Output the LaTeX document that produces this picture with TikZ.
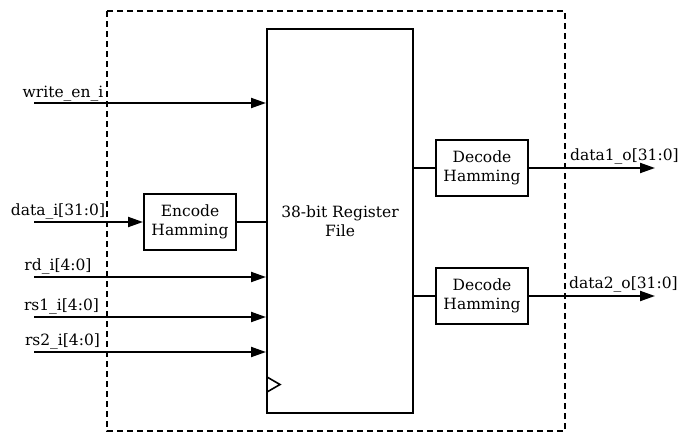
\documentclass[tikz,border=0pt]{standalone}
\usepackage{fontspec}
\setmainfont{DejaVu Serif}
\usetikzlibrary{arrows.meta,calc}
\begin{document}
\begin{tikzpicture}[x=1pt,y=-1pt,
  every node/.style={font=\fontsize{15.5}{19.5}\selectfont},
  blk/.style={draw,line width=2pt,rectangle,align=center,inner sep=0pt},
  arr/.style={line width=2pt,-{Triangle[length=15pt,width=10pt]}},
  wire/.style={line width=2pt},
  lbl/.style={anchor=base,inner sep=0pt}]
\useasboundingbox (0,0) rectangle (680,432);
% outer dashed boundary
\draw[line width=1.6pt,dash pattern=on 6pt off 4pt] (107,11) rectangle (565,431);
% blocks
\node[blk,minimum width=146pt,minimum height=384pt] (reg) at (340,221) {38-bit Register\\File};
\node[blk,minimum width=92pt,minimum height=56pt] (enc) at (190,222) {Encode\\Hamming};
\node[blk,minimum width=92pt,minimum height=56pt] (dec1) at (482,168) {Decode\\Hamming};
\node[blk,minimum width=92pt,minimum height=56pt] (dec2) at (482,296) {Decode\\Hamming};
% clock marker
\draw[line width=1.6pt,line join=miter] (267,377) -- (280,384.5) -- (267,392);
% inputs
\coordinate (wen) at (34,103);
\coordinate (din) at (34,222);
\coordinate (rd) at (34,277);
\coordinate (rs1) at (34,317);
\coordinate (rs2) at (34,352);
\draw[arr] (wen) -- (wen -| reg.west);
\draw[arr] (din) -- (enc.west);
\draw[wire] (enc.east) -- (enc.east -| reg.west);
\draw[arr] (rd) -- (rd -| reg.west);
\draw[arr] (rs1) -- (rs1 -| reg.west);
\draw[arr] (rs2) -- (rs2 -| reg.west);
\node[lbl] (lwen) at (63,97) {write\_en\_i};
\node[lbl] (ldin) at (58,215.5) {data\_i[31:0]};
\node[lbl] (lrd) at (58,270.5) {rd\_i[4:0]};
\node[lbl] (lrs1) at (61.5,310.5) {rs1\_i[4:0]};
\node[lbl] (lrs2) at (62.5,345.5) {rs2\_i[4:0]};
% register to decoders
\draw[wire] (dec1.west -| reg.east) -- (dec1.west);
\draw[wire] (dec2.west -| reg.east) -- (dec2.west);
% outputs
\coordinate (o1) at (655,168);
\coordinate (o2) at (655,296);
\draw[arr] (dec1.east) -- (o1);
\draw[arr] (dec2.east) -- (o2);
\node[lbl,anchor=base west] (lo1) at (570,160.5) {data1\_o[31:0]};
\node[lbl,anchor=base west] (lo2) at (569,288.5) {data2\_o[31:0]};
\end{tikzpicture}
\end{document}
